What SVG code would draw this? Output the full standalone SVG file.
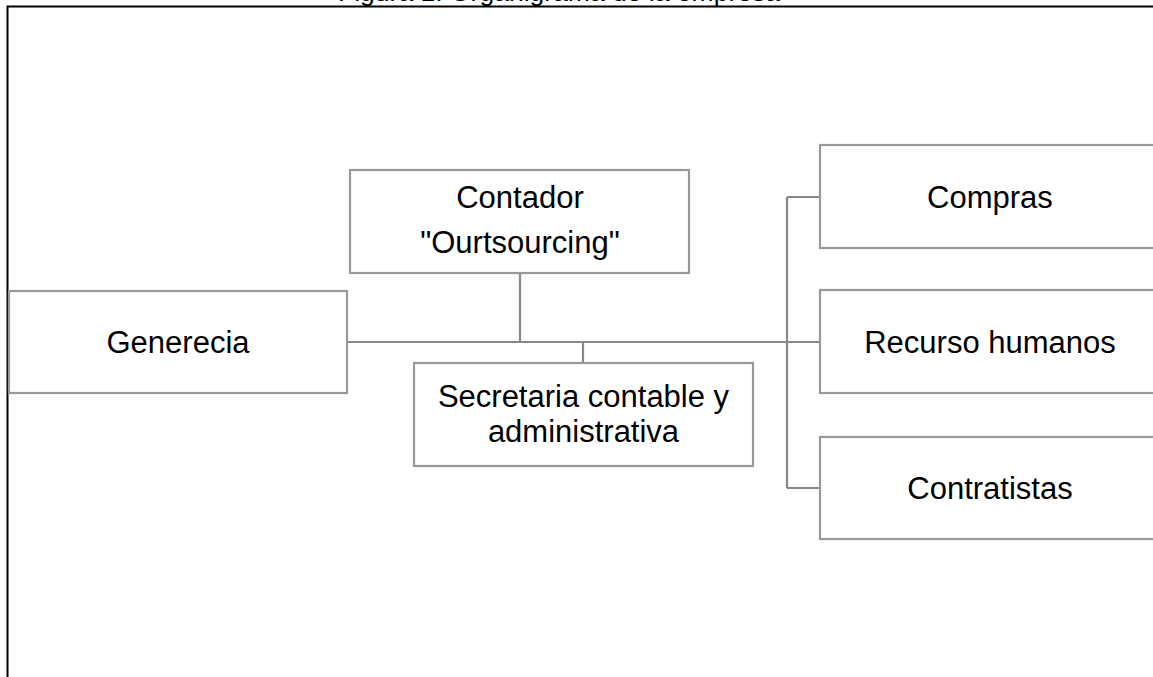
<svg xmlns="http://www.w3.org/2000/svg" width="1153" height="677" viewBox="0 0 1153 677">
<style>
.box{fill:#fff;stroke:#999;stroke-width:2.2}
.t{font-family:"Liberation Sans",Arial,sans-serif;font-size:31px;fill:#000;text-anchor:middle}
.c{fill:none;stroke:#888;stroke-width:2.2}
</style>
<rect width="1153" height="677" fill="#fff"/>
<text x="559" y="1" font-family="Liberation Sans, Arial, sans-serif" font-size="26.5" text-anchor="middle">Figura 1. Organigrama de la empresa</text>
<path d="M7.5,690 V6.5 H1160" fill="none" stroke="#000" stroke-width="2"/>
<g id="connectors">
<path class="c" d="M347,342 H820"/>
<path class="c" d="M520,273 V342"/>
<path class="c" d="M583,342 V363"/>
<path class="c" d="M787,197 V488"/>
<path class="c" d="M787,197 H820"/>
<path class="c" d="M787,488 H820"/>
</g>
<g id="generecia">
<rect class="box" x="9" y="291" width="338" height="102"/>
<text class="t" x="178" y="353">Generecia</text>
</g>
<g id="contador">
<rect class="box" x="350" y="170" width="339" height="103"/>
<text class="t" x="520" y="208">Contador</text>
<text class="t" x="520" y="253">"Ourtsourcing"</text>
</g>
<g id="secretaria">
<rect class="box" x="414" y="363" width="339" height="103"/>
<text class="t" x="583.5" y="407">Secretaria contable y</text>
<text class="t" x="583.5" y="442">administrativa</text>
</g>
<g id="compras">
<rect class="box" x="820" y="145" width="345" height="103"/>
<text class="t" x="990" y="208">Compras</text>
</g>
<g id="recursos">
<rect class="box" x="820" y="290" width="345" height="103"/>
<text class="t" x="990" y="353">Recurso humanos</text>
</g>
<g id="contratistas">
<rect class="box" x="820" y="437" width="345" height="102"/>
<text class="t" x="990" y="499">Contratistas</text>
</g>
</svg>
